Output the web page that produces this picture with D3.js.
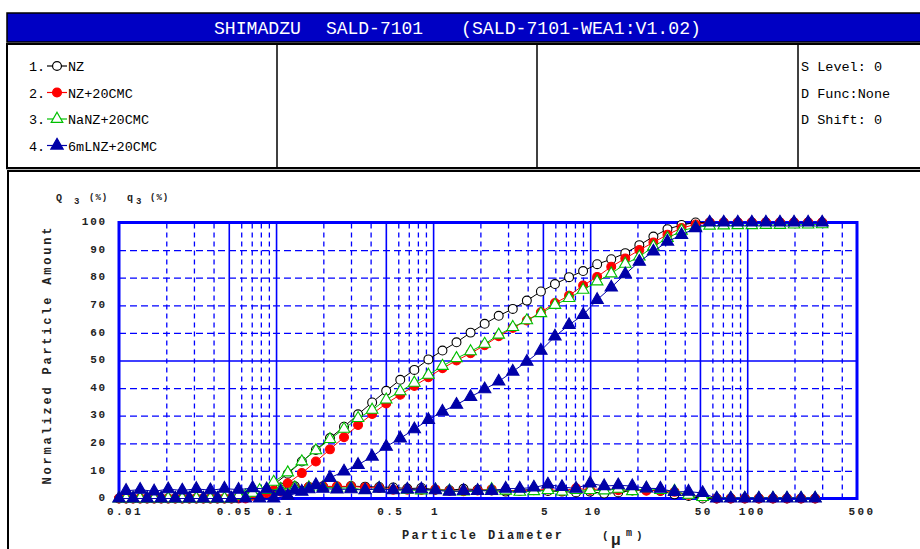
<!DOCTYPE html>
<html>
<head>
<meta charset="utf-8">
<script src="https://cdn.jsdelivr.net/npm/d3@7"></script>
<style>
  body { margin: 0; background: #fff; }
  text { font-family: "Liberation Mono", "DejaVu Sans Mono", monospace; }
</style>
</head>
<body>
<svg id="chart" width="920" height="549"></svg>
<script>
// channel edges (um) used for cumulative Q3 points
const edges = [0.0100,0.01229,0.01510,0.01856,0.02281,0.02803,0.03445,0.04233,0.05203,0.06394,
  0.07858,0.09659,0.1187,0.1459,0.1793,0.2204,0.2708,0.3328,0.4090,0.5027,
  0.6178,0.7593,0.9331,1.147,1.409,1.732,2.129,2.616,3.216,3.952,
  4.857,5.969,7.336,9.016,11.08,13.62,16.73,20.56,25.27,31.06,
  38.17,46.91,57.65,70.85,87.07,107.0,131.5,161.6,198.6,244.1,300.0];

// channel centres (um) used for frequency q3 points
const centers = [0.01109,0.01363,0.01674,0.02057,0.02528,0.03107,0.03819,0.04693,0.05768,0.07087,
  0.08710,0.1071,0.1316,0.1617,0.1988,0.2443,0.3002,0.3689,0.4534,0.5572,
  0.6848,0.8416,1.034,1.271,1.562,1.920,2.360,2.900,3.564,4.380,
  5.383,6.615,8.130,9.992,12.28,15.09,18.55,22.80,28.02,34.43,
  42.31,52.00,63.91,78.55,96.52,118.6,145.8,179.1,220.2,270.6];

// Q3 (%) cumulative
const cumNZ = [0,0,0,0,0,0,0,0,0,0.5,2,5,9,13.4,17.6,21.9,26,30.5,34.8,39,43,46.6,50.4,53.6,56.6,60.1,
  63.3,66.2,68.7,71.7,75,77.7,80.2,82.4,84.9,86.7,88.9,91.8,94.9,97.6,99.1,100,100,100,100,100,100,100,100,100,100];
const cumNZCMC = [0,0,0,0,0,0,0,0,0,0,1,3,5.5,9.2,13.4,17.8,22.2,26.6,30.6,34.4,37.6,40.8,43.9,47.2,50,52.6,
  55.5,58.8,61.8,64.5,67.5,70.8,73.5,77.2,80.3,84,87,90,92.8,95.6,98,99.3,100,100,100,100,100,100,100,100,100];
const cumNaNZ = [0,0,0,0,0,0,0,0,0,1,3,6,9.4,13.4,17.4,21.5,25.2,29.1,32.1,35.8,38.8,41.9,44.8,48,50.8,53.3,
  56,59.3,62.1,64.5,67.1,70.1,72.6,75.6,78.6,81.5,85,87.6,91.3,94.3,97,98.3,98.8,98.9,99,99,99.1,99.1,99.2,99.2,99.3];
const cum6mL = [0,0,0,0,0,0,0,0,0,0,0,0,1,2.5,4.9,7.5,9.8,12.2,15.2,18.8,21.8,25.1,28.5,31.5,34,36.8,
  39.6,42.4,46,49.6,53.6,58.7,62.9,66.5,72,76.5,81.3,85.8,89.5,93.1,95.5,98,100,100,100,100,100,100,100,100,100];

// q3 (%) frequency
const freqNZ = [0,0,0,0,0,0,0,0,0.3,1.5,3,4,4.4,4.2,4.3,4.1,4.5,4.3,4.2,4,3.6,3.8,3.2,3,3.5,3.2,
  2.9,2.5,3,3.3,2.7,2.5,2.2,2.5,1.8,2.2,2.9,3.1,2.7,1.5,0.9,0,0,0,0,0,0,0,0,0];
const freqNZCMC = [0,0,0,0,0,0,0,0,0,1,2,2.5,3.7,4.2,4.4,4.4,4.4,4,3.8,3.2,3.2,3.1,3.3,2.8,2.6,2.9,
  3.3,3,2.7,3,3.3,2.7,3.7,3.1,3.7,3,3,2.8,2.8,2.4,1.3,0.7,0,0,0,0,0,0,0,0];
const freqNaNZ = [0,0,0,0,0,0,0,0,1,2,3,3.4,4,4,4.1,3.7,3.9,3,3.7,3,3.1,2.9,3.2,2.8,2.5,2.7,
  3.3,2.8,2.4,2.6,3,2.5,3,3,2.9,3.5,2.6,3.7,3,2.7,1.3,0.5,0.1,0.1,0.1,0.1,0.1,0.1,0.1,0.1];
const freq6mL = [2.8,3.2,2.6,3.4,2.9,3.5,3,3.6,3.2,3.8,3.4,2.5,3,3.4,3.6,3.3,3.4,3,3.6,3,
  3.3,3.4,3,2.5,2.8,2.8,2.8,3.6,3.6,4,5.1,4.2,3.6,5.5,4.5,4.8,4.5,3.7,3.6,2.4,2.5,2,0,0,0,0,0,0,0,0];

const seriesNames = ["NZ", "NZ+20CMC", "NaNZ+20CMC", "6mLNZ+20CMC"];
const xTicks = [0.01, 0.05, 0.1, 0.5, 1, 5, 10, 50, 100, 500];
const xTickLabels = ["0.01", "0.05", "0.1", "0.5", "1", "5", "10", "50", "100", "500"];
const yTicks = [0, 10, 20, 30, 40, 50, 60, 70, 80, 90, 100];

const styles = [
  {color: "#000000", fill: "#ffffff", type: d3.symbolCircle, size: 62},
  {color: "#ff0000", fill: "#ff0000", type: d3.symbolCircle, size: 62},
  {color: "#00c000", fill: "#ffffff", type: d3.symbolTriangle, size: 58},
  {color: "#0000a8", fill: "#0000a8", type: d3.symbolTriangle, size: 66}
];
const cums = [cumNZ, cumNZCMC, cumNaNZ, cum6mL];
const freqs = [freqNZ, freqNZCMC, freqNaNZ, freq6mL];

const svg = d3.select("#chart");
const gridBlue = "#0000ff";

// ---- frames ----
svg.append("rect").attr("x", 7).attr("y", 13).attr("width", 925).attr("height", 29)
  .attr("fill", "#0000c4").attr("stroke", "#000").attr("stroke-width", 1.5);
svg.append("text").attr("x", 214).attr("y", 34).attr("fill", "#fff").attr("font-size", 18)
  .attr("textLength", 87).attr("lengthAdjust", "spacingAndGlyphs").text("SHIMADZU");
svg.append("text").attr("x", 326).attr("y", 34).attr("fill", "#fff").attr("font-size", 18)
  .attr("textLength", 97).attr("lengthAdjust", "spacingAndGlyphs").text("SALD-7101");
svg.append("text").attr("x", 461).attr("y", 34).attr("fill", "#fff").attr("font-size", 18)
  .attr("textLength", 240).attr("lengthAdjust", "spacingAndGlyphs").text("(SALD-7101-WEA1:V1.02)");

svg.append("rect").attr("x", 7).attr("y", 44).attr("width", 925).attr("height", 124)
  .attr("fill", "none").attr("stroke", "#000").attr("stroke-width", 2);
svg.append("line").attr("x1", 6).attr("x2", 920).attr("y1", 169.5).attr("y2", 169.5)
  .attr("stroke", "#bbb").attr("stroke-width", 1);
[277, 537, 798].forEach(xp => {
  svg.append("line").attr("x1", xp).attr("x2", xp).attr("y1", 44).attr("y2", 168)
    .attr("stroke", "#000").attr("stroke-width", 1.5);
});
svg.append("rect").attr("x", 8).attr("y", 171).attr("width", 925).attr("height", 400)
  .attr("fill", "none").attr("stroke", "#000").attr("stroke-width", 2);

// ---- legend ----
const legendY = [66, 92.5, 119, 145.5];
const legend = svg.append("g").attr("font-size", 13.5).attr("fill", "#000");
seriesNames.forEach((name, i) => {
  const ly = legendY[i];
  legend.append("text").attr("x", 29).attr("y", ly + 5).text((i + 1) + ".");
  legend.append("line").attr("x1", 47).attr("x2", 67).attr("y1", ly).attr("y2", ly)
    .attr("stroke", styles[i].color).attr("stroke-width", 1.2);
  legend.append("path").attr("transform", `translate(57,${ly})`)
    .attr("d", d3.symbol().type(styles[i].type).size(styles[i].size)())
    .attr("fill", styles[i].fill).attr("stroke", styles[i].color).attr("stroke-width", 1.2);
  legend.append("text").attr("x", 68).attr("y", ly + 5).text(name);
});
const info = ["S Level: 0", "D Func:None", "D Shift: 0"];
info.forEach((t, i) => {
  legend.append("text").attr("x", 801).attr("y", legendY[i] + 5).text(t);
});

// ---- plot ----
const plot = {left: 119, right: 857, top: 222.5, bottom: 498.5};
const x = d3.scaleLog().domain([0.01, 500]).range([plot.left, plot.right]);
const y = d3.scaleLinear().domain([0, 100]).range([plot.bottom, plot.top]);

svg.append("rect").attr("x", plot.left).attr("y", plot.top)
  .attr("width", plot.right - plot.left).attr("height", plot.bottom - plot.top).attr("fill", "#fff");

// minor / major vertical grid
const vMinor = [], vMajor = [];
[0.01, 0.1, 1, 10, 100].forEach(dec => {
  for (let k = 1; k <= 9; k++) {
    const v = +(dec * k).toPrecision(3);
    if (v <= 0.01 || v >= 500) continue;
    (k === 1 || k === 5 ? vMajor : vMinor).push(v);
  }
});
const gridH = plot.bottom - plot.top;
const gx = svg.append("g").attr("transform", `translate(0,${plot.bottom})`)
  .call(d3.axisBottom(x).tickValues(vMinor).tickSize(-gridH).tickFormat(""));
gx.selectAll(".tick line").attr("stroke", gridBlue).attr("stroke-width", 1.3).attr("stroke-dasharray", "5,4");
gx.select(".domain").remove();
const gxm = svg.append("g").attr("transform", `translate(0,${plot.bottom})`)
  .call(d3.axisBottom(x).tickValues(vMajor).tickSize(-gridH).tickFormat(""));
gxm.selectAll(".tick line").attr("stroke", gridBlue).attr("stroke-width", 1.6);
gxm.select(".domain").remove();

// horizontal grid
const gy = svg.append("g").attr("transform", `translate(${plot.left},0)`)
  .call(d3.axisLeft(y).tickValues(yTicks.filter(v => v > 0 && v < 100 && v !== 50))
    .tickSize(-(plot.right - plot.left)).tickFormat(""));
gy.selectAll(".tick line").attr("stroke", gridBlue).attr("stroke-width", 1.3).attr("stroke-dasharray", "7,4");
gy.select(".domain").remove();
const gym = svg.append("g").attr("transform", `translate(${plot.left},0)`)
  .call(d3.axisLeft(y).tickValues([50]).tickSize(-(plot.right - plot.left)).tickFormat(""));
gym.selectAll(".tick line").attr("stroke", gridBlue).attr("stroke-width", 1.6);
gym.select(".domain").remove();

// border
svg.append("rect").attr("x", plot.left).attr("y", plot.top)
  .attr("width", plot.right - plot.left).attr("height", plot.bottom - plot.top)
  .attr("fill", "none").attr("stroke", gridBlue).attr("stroke-width", 3);

// tick labels
const yAxis = svg.append("g").attr("transform", `translate(107,0)`)
  .call(d3.axisLeft(y).tickValues(yTicks).tickSize(0).tickPadding(0));
yAxis.select(".domain").remove();
yAxis.selectAll("text").attr("font-family", "Liberation Mono").attr("font-weight", "bold")
  .attr("font-size", 11).attr("letter-spacing", 1.8).attr("fill", "#222").attr("dy", "0.2em");

const xAxis = svg.append("g").attr("transform", `translate(0,${plot.bottom + 9})`)
  .call(d3.axisBottom(x).tickValues(xTicks).tickSize(0).tickPadding(0)
    .tickFormat((d, i) => xTickLabels[i]));
xAxis.select(".domain").remove();
xAxis.selectAll("text").attr("font-family", "Liberation Mono").attr("font-weight", "bold")
  .attr("font-size", 11).attr("letter-spacing", 2.4).attr("fill", "#222")
  .attr("dx", (d, i) => 2 + 1.2 * (xTickLabels[i].length - 1));

// axis titles
svg.append("text").attr("transform", "translate(51,356) rotate(-90)")
  .attr("text-anchor", "middle").attr("font-weight", "bold").attr("font-size", 12)
  .attr("textLength", 257).attr("lengthAdjust", "spacing").attr("fill", "#222")
  .text("Normalized Particle Amount");

svg.append("text").attr("x", 402).attr("y", 539).attr("font-weight", "bold").attr("font-size", 12)
  .attr("textLength", 160).attr("lengthAdjust", "spacing").attr("fill", "#222")
  .text("Particle Diameter");
const unit = svg.append("text").attr("y", 539).attr("font-weight", "bold").attr("fill", "#222");
unit.append("tspan").attr("x", 602).attr("font-size", 11).text("(");
unit.append("tspan").attr("x", 611).attr("y", 545).attr("font-size", 16).text("\u03bc");
unit.append("tspan").attr("x", 626).attr("y", 536).attr("font-size", 10).text("m");
unit.append("tspan").attr("x", 636).attr("y", 539).attr("font-size", 11).text(")");

const qlab = svg.append("g").attr("font-weight", "bold").attr("fill", "#222");
qlab.append("text").attr("x", 56).attr("y", 201).attr("font-size", 10).text("Q");
qlab.append("text").attr("x", 74).attr("y", 204).attr("font-size", 9).text("3");
qlab.append("text").attr("x", 89).attr("y", 200).attr("font-size", 9).attr("letter-spacing", 1).text("(%)");
qlab.append("text").attr("x", 127).attr("y", 201).attr("font-size", 10).text("q");
qlab.append("text").attr("x", 136).attr("y", 204).attr("font-size", 9).text("3");
qlab.append("text").attr("x", 150).attr("y", 200).attr("font-size", 9).attr("letter-spacing", 1).text("(%)");

// ---- series ----
const line = d3.line().x(d => x(d[0])).y(d => y(d[1]));
const seriesG = svg.append("g");
cums.forEach((cum, i) => {
  const st = styles[i];
  const sets = [edges.map((e, j) => [e, cum[j]]), centers.map((c, j) => [c, freqs[i][j]])];
  const g = seriesG.append("g");
  sets.forEach(pts => {
    g.append("path").attr("d", line(pts)).attr("fill", "none")
      .attr("stroke", st.color).attr("stroke-width", 1);
  });
  sets.forEach(pts => {
    g.selectAll(null).data(pts).join("path")
      .attr("transform", d => `translate(${x(d[0])},${y(d[1])})`)
      .attr("d", d3.symbol().type(st.type).size(st.size)())
      .attr("fill", st.fill).attr("stroke", st.color).attr("stroke-width", 1.1);
  });
});
</script>
</body>
</html>
